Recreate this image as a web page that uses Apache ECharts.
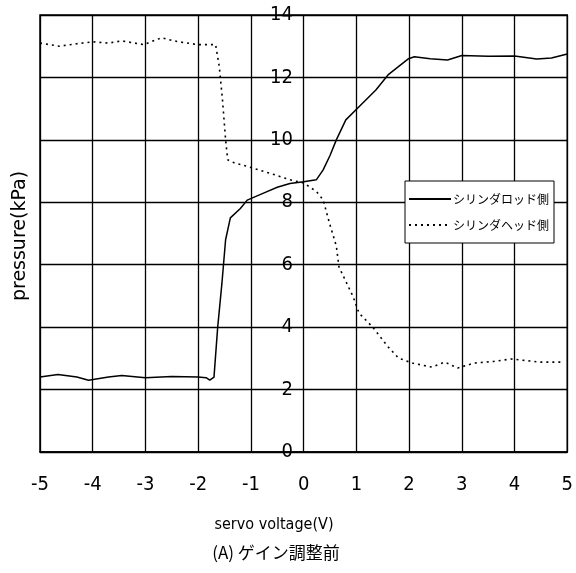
<!DOCTYPE html>
<html>
<head>
<meta charset="utf-8">
<script src="https://cdn.jsdelivr.net/npm/echarts@6/dist/echarts.min.js"></script>
<style>html,body{margin:0;padding:0;background:#fff;}#c{width:576px;height:573px;}</style>
</head>
<body>
<div id="c"></div>
<script>
const seriesNames = ['シリンダロッド側', 'シリンダヘッド側'];
const rodVoltage = [-5, -4.66, -4.3, -4.08, -3.7, -3.45, -3, -2.5, -2, -1.85, -1.78, -1.7, -1.63, -1.55, -1.48, -1.39, -1.2, -1.07, -0.75, -0.5, -0.26, 0, 0.24, 0.37, 0.5, 0.62, 0.8, 1.05, 1.37, 1.6, 1.99, 2.1, 2.4, 2.73, 3.0, 3.5, 4.0, 4.42, 4.7, 5];
const rodPressure = [2.4, 2.48, 2.4, 2.3, 2.4, 2.45, 2.38, 2.42, 2.4, 2.38, 2.3, 2.4, 4.0, 5.4, 6.8, 7.5, 7.8, 8.07, 8.3, 8.48, 8.6, 8.66, 8.72, 9.04, 9.5, 10.0, 10.64, 11.06, 11.6, 12.08, 12.6, 12.66, 12.6, 12.56, 12.7, 12.68, 12.69, 12.59, 12.62, 12.75];
const headVoltage = [-5, -4.63, -4.3, -4, -3.7, -3.45, -3.03, -2.7, -2.4, -2, -1.67, -1.6, -1.54, -1.48, -1.44, -1.31, -1.07, -0.64, -0.26, 0, 0.24, 0.37, 0.49, 0.62, 0.67, 0.94, 1.05, 1.31, 1.6, 1.8, 2.06, 2.43, 2.68, 2.92, 3.24, 3.6, 3.93, 4.49, 4.93];
const headPressure = [13.1, 13.0, 13.08, 13.14, 13.1, 13.17, 13.05, 13.27, 13.15, 13.05, 13.05, 12.35, 11.3, 10.0, 9.36, 9.26, 9.15, 8.93, 8.72, 8.62, 8.35, 8.08, 7.33, 6.6, 5.93, 4.97, 4.45, 4.0, 3.37, 3.01, 2.85, 2.72, 2.88, 2.69, 2.85, 2.9, 2.98, 2.88, 2.88];
const xTitle = 'servo voltage(V)';
const yTitle = 'pressure(kPa)';
const caption = '(A) ゲイン調整前';

const zip = (a, b) => a.map((v, i) => [v, b[i]]);
const numFont = '"Liberation Sans Narrow", "DejaVu Sans Condensed", sans-serif';
const cjkFont = '"Noto Sans CJK JP", sans-serif';

const gridLeft = 40, gridRight = 2;
const plotWidth = 576 - gridLeft - gridRight;
const yAxisShift = -plotWidth / 2; // puts the y axis labels at x = 0

const chart = echarts.init(document.getElementById('c'), null, {renderer: 'canvas'});
chart.setOption({
  animation: false,
  backgroundColor: '#fff',
  grid: {left: gridLeft, right: gridRight, top: 15, bottom: 121, show: true, borderColor: '#000', borderWidth: 1.5, backgroundColor: 'transparent'},
  xAxis: {
    type: 'value', min: -5, max: 5, interval: 1,
    axisLine: {show: true, lineStyle: {color: '#000', width: 1.5}},
    axisTick: {show: false},
    splitLine: {show: true, lineStyle: {color: '#000', width: 1.3}},
    axisLabel: {color: '#000', fontSize: 20, fontFamily: numFont, margin: 23}
  },
  yAxis: {
    type: 'value', min: 0, max: 14, interval: 2, offset: yAxisShift,
    axisLine: {show: false},
    axisTick: {show: false},
    splitLine: {show: true, lineStyle: {color: '#000', width: 1.3}},
    axisLabel: {color: '#000', fontSize: 20, fontFamily: numFont, margin: 14}
  },
  legend: {
    orient: 'vertical', left: 405, top: 181,
    backgroundColor: '#fff', borderColor: '#000', borderWidth: 1,
    padding: [12, 5, 12, 3], itemGap: 14, itemWidth: 42, itemHeight: 14,
    itemStyle: {color: 'transparent', borderColor: 'transparent', borderWidth: 0},
    textStyle: {color: '#000', fontSize: 12, fontFamily: cjkFont, padding: [0, 0, 0, -3]},
    data: seriesNames
  },
  graphic: [
    {type: 'text', x: 20, y: 236, rotation: Math.PI / 2,
      style: {text: yTitle, fill: '#000', font: '19px "DejaVu Sans", sans-serif', textAlign: 'center', textVerticalAlign: 'middle'}},
    {type: 'text', x: 274, y: 525,
      style: {text: xTitle, fill: '#000', font: '16px ' + numFont, textAlign: 'center', textVerticalAlign: 'middle'}},
    {type: 'text', x: 276, y: 553,
      style: {text: caption, fill: '#000', font: '17px ' + cjkFont, textAlign: 'center', textVerticalAlign: 'middle'}}
  ],
  series: [
    {name: seriesNames[0], type: 'line', symbol: 'none', data: zip(rodVoltage, rodPressure),
      lineStyle: {color: '#000', width: 1.5}, itemStyle: {color: '#000'}},
    {name: seriesNames[1], type: 'line', symbol: 'none', data: zip(headVoltage, headPressure),
      lineStyle: {color: '#000', width: 1.6, type: [2, 4]}, itemStyle: {color: '#000'}}
  ]
});
</script>
</body>
</html>
